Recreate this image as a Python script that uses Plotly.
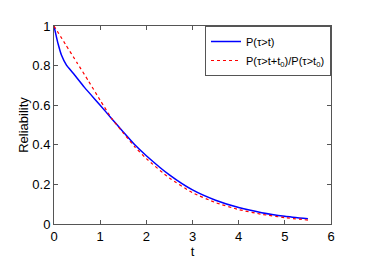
import plotly.graph_objects as go

t_blue = [0, 0.045, 0.09, 0.163, 0.27, 0.416, 0.66, 1, 1.25, 1.5, 1.75, 2, 2.5, 3, 3.5, 4, 4.5, 5, 5.5]
p_blue = [1, 0.953, 0.909, 0.852, 0.802, 0.761, 0.69, 0.6, 0.532, 0.465, 0.4, 0.345, 0.248, 0.172, 0.12, 0.083, 0.057, 0.039, 0.026]

t_red = [0, 0.25, 0.5, 0.75, 1, 1.25, 1.5, 1.75, 2, 2.5, 3, 3.5, 4, 4.5, 5, 5.5]
p_red = [1, 0.907, 0.814, 0.721, 0.625, 0.533, 0.46, 0.39, 0.33, 0.232, 0.158, 0.108, 0.073, 0.049, 0.032, 0.02]

x_ticks = [0, 1, 2, 3, 4, 5, 6]
y_ticks = [0, 0.2, 0.4, 0.6, 0.8, 1]
y_tick_labels = ["0", "0.2", "0.4", "0.6", "0.8", "1"]

fig = go.Figure()
fig.add_trace(go.Scatter(x=t_blue, y=p_blue, mode="lines", name="P(τ>t)",
                         line=dict(color="#0000ff", width=1.5, shape="spline", smoothing=0.5)))
fig.add_trace(go.Scatter(x=t_red, y=p_red, mode="lines", name="P(τ>t+t<sub>0</sub>)/P(τ>t<sub>0</sub>)",
                         line=dict(color="#ff0000", width=1.2, dash="dot", shape="spline", smoothing=0.5)))

axis_common = dict(showline=True, linecolor="#555555", linewidth=1, mirror="ticks",
                   ticks="inside", ticklen=4, tickcolor="#555555", showgrid=False, zeroline=False,
                   tickfont=dict(size=13, color="#000000"))
fig.update_xaxes(range=[0, 6], tickvals=x_ticks,
                 title=dict(text="t", font=dict(size=13, color="#000"), standoff=0), **axis_common)
fig.update_yaxes(range=[0, 1], tickvals=y_ticks, ticktext=y_tick_labels,
                 title=dict(text="Reliability", font=dict(size=13, color="#000"), standoff=0), **axis_common)

fig.update_layout(
    width=374, height=265,
    margin=dict(l=54, r=43, t=26, b=37),
    paper_bgcolor="white", plot_bgcolor="white",
    font=dict(family="Liberation Sans, Arial, sans-serif", color="#000"),
    legend=dict(x=1, y=1, xanchor="right", yanchor="top", bgcolor="white",
                bordercolor="#555555", borderwidth=1, font=dict(size=11),
                tracegroupgap=0, itemwidth=30),
    showlegend=True,
)
fig.write_html("out.html", config={"displayModeBar": False},
               post_script="document.body.style.margin='0';")
